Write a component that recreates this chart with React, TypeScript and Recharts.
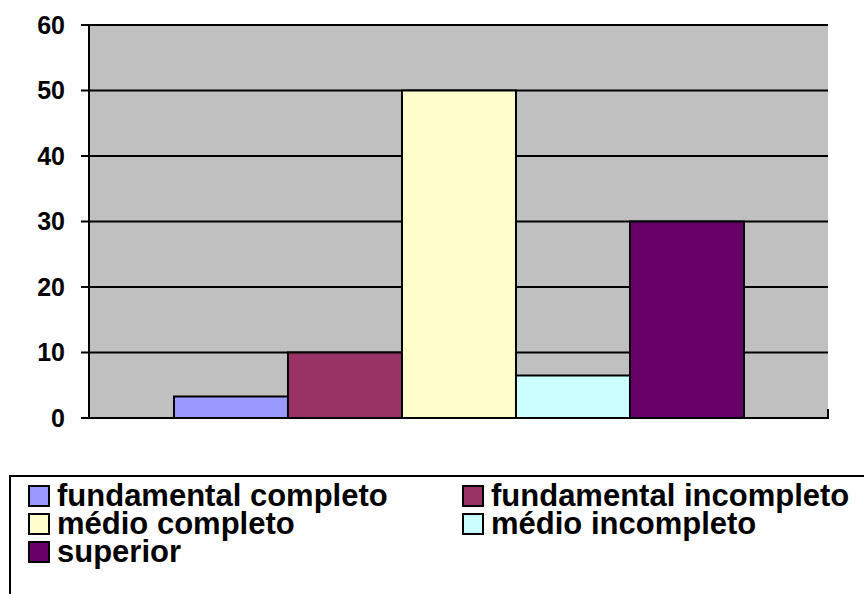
import React from 'react';
import { BarChart, Bar, XAxis, YAxis, CartesianGrid, Legend } from 'recharts';

const seriesKeys = ['fc', 'fi', 'mc', 'mi', 'sup'];
const seriesNames = [
  'fundamental completo',
  'fundamental incompleto',
  'médio completo',
  'médio incompleto',
  'superior',
];
const seriesValues = [3.3, 10, 50, 6.5, 30];
const yTicks = [0, 10, 20, 30, 40, 50, 60];
const category = [''];

const COLORS = ['#9999FF', '#993366', '#FFFFCC', '#CCFFFF', '#660066'];

const row: Record<string, any> = { name: category[0] };
seriesKeys.forEach((k, i) => {
  row[k] = seriesValues[i];
});
const data = [row];

const FONT = '"Liberation Sans", Arial, sans-serif';

const BoundaryTick = (props: any) => {
  const { x, y, payload } = props;
  const off = payload && typeof payload.offset === 'number' ? payload.offset : 0;
  if (!off) return <g />;
  return (
    <g>
      <line x1={x - off} x2={x - off} y1={y - 9} y2={y + 1} stroke="#000" strokeWidth={2} />
      <line x1={x + off} x2={x + off} y1={y - 9} y2={y + 1} stroke="#000" strokeWidth={2} />
    </g>
  );
};

const LegendBox = () => {
  const order = [0, 1, 2, 3, 4];
  return (
    <div
      style={{
        width: 880,
        height: 140,
        border: '2px solid #000',
        boxSizing: 'border-box',
        paddingTop: 5,
        paddingLeft: 17,
        fontFamily: FONT,
        fontWeight: 'bold',
        fontSize: 31,
        color: '#000',
        display: 'grid',
        gridTemplateColumns: '434px 434px',
        gridAutoRows: '28px',
        background: '#fff',
      }}
    >
      {order.map((i) => (
        <div key={seriesKeys[i]} style={{ display: 'flex', alignItems: 'center', height: 28, whiteSpace: 'nowrap' }}>
          <span
            style={{
              display: 'inline-block',
              width: 22,
              height: 22,
              boxSizing: 'border-box',
              border: '2px solid #000',
              background: COLORS[i],
              marginRight: 7,
              flex: '0 0 auto',
            }}
          />
          <span style={{ lineHeight: '28px' }}>{seriesNames[i]}</span>
        </div>
      ))}
    </div>
  );
};

export default function App() {
  return (
    <div style={{ position: 'absolute', left: 0, top: 0, width: 864, height: 594, overflow: 'hidden', background: '#fff' }}>
      <BarChart
        width={864}
        height={594}
        data={data}
        margin={{ top: 25, right: 36, bottom: 146, left: 0 }}
        barCategoryGap="11.5%"
        barGap={0}
      >
        <CartesianGrid
          xAxisId="bottom"
          yAxisId="left"
          vertical={false}
          stroke="#000"
          strokeWidth={2}
          fill="#C0C0C0"
          fillOpacity={1}
        />
        <XAxis
          dataKey="name"
          xAxisId="bottom"
          orientation="bottom"
          height={30}
          axisLine={{ stroke: '#000', strokeWidth: 2 }}
          tickLine={false}
          tick={<BoundaryTick />}
          tickSize={0}
          tickMargin={0}
        />
        <XAxis
          dataKey="name"
          xAxisId="top"
          orientation="top"
          height={0}
          tick={false}
          tickLine={false}
          axisLine={{ stroke: '#808080', strokeWidth: 2 }}
        />
        <YAxis
          yAxisId="left"
          domain={[0, 60]}
          ticks={yTicks}
          width={89}
          interval={0}
          axisLine={{ stroke: '#000', strokeWidth: 2 }}
          tickLine={{ stroke: '#000', strokeWidth: 2 }}
          tickSize={8}
          tickMargin={16}
          tick={{ fill: '#000', fontSize: 25, fontWeight: 'bold', fontFamily: FONT }}
        />
        <YAxis
          yAxisId="right"
          orientation="right"
          domain={[0, 60]}
          width={0}
          tick={false}
          tickLine={false}
          axisLine={{ stroke: '#808080', strokeWidth: 2 }}
        />
        {seriesKeys.map((k, i) => (
          <Bar
            key={k}
            dataKey={k}
            name={seriesNames[i]}
            xAxisId="bottom"
            yAxisId="left"
            fill={COLORS[i]}
            stroke="#000"
            strokeWidth={2}
            isAnimationActive={false}
          />
        ))}
        <Legend
          layout="vertical"
          align="center"
          verticalAlign="middle"
          content={<LegendBox />}
          wrapperStyle={{ left: 9, top: 475, width: 880, height: 140 }}
        />
      </BarChart>
    </div>
  );
}
